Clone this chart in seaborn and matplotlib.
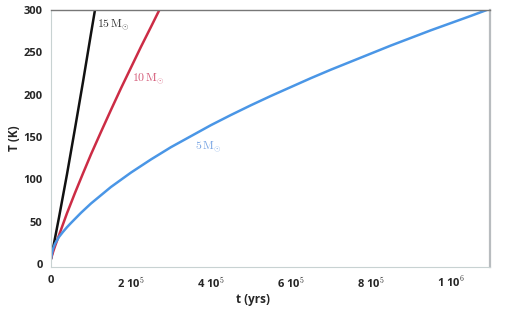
import matplotlib
matplotlib.use("Agg")
import matplotlib.pyplot as plt
from matplotlib.ticker import FuncFormatter
import seaborn as sns

# values (t in years, T in K)
t_15 = [0, 20000, 40000, 60000, 80000, 100000, 110000]
T_15 = [6, 55, 106, 160, 215, 272, 300]

t_10 = [0, 5000, 10000, 20000, 40000, 60000, 80000, 100000, 125000,
        150000, 175000, 200000, 225000, 250000, 271000]
T_10 = [6, 14, 21, 34, 60, 84, 107, 129.5, 156,
        182, 207.5, 232, 256.5, 280, 300]

t_5 = [0, 2500, 5000, 10000, 20000, 30000, 40000, 50000, 75000, 100000,
       150000, 200000, 250000, 300000, 350000, 400000, 450000, 500000,
       550000, 600000, 650000, 700000, 750000, 800000, 850000, 900000,
       950000, 1000000, 1050000, 1090000]
T_5 = [6, 13, 18, 24, 32, 38, 43.5, 48.5, 60.5, 71.5,
       91, 108, 123.5, 138, 151, 164, 176, 187.5,
       198.5, 209, 219.5, 229.5, 239, 248.5, 258, 267,
       276, 284.5, 293, 300]

x_ticks = [0, 200000, 400000, 600000, 800000, 1000000]
y_ticks = [0, 50, 100, 150, 200, 250, 300]

sns.set_style("white")
plt.rcParams["mathtext.fontset"] = "cm"
plt.rcParams["font.family"] = ["Open Sans", "DejaVu Sans"]

fig = plt.figure(figsize=(5.12, 3.12), dpi=100)
ax = fig.add_axes([0.0996, 0.1442, 0.8574, 0.8238])

sns.lineplot(x=t_15, y=T_15, ax=ax, color="#111111", lw=1.8, sort=False)
sns.lineplot(x=t_10, y=T_10, ax=ax, color="#cc2c45", lw=1.8, sort=False)
sns.lineplot(x=t_5, y=T_5, ax=ax, color="#4a96e6", lw=1.8, sort=False)

ax.set_xlim(0, 1.098e6)
ax.set_ylim(-3.5, 300)
ax.set_xticks(x_ticks)
ax.set_yticks(y_ticks)


def fmt_x(v, pos):
    if v == 0:
        return "0"
    e = 5 if v < 1e6 else 6
    return "%d 10$^{%d}$" % (round(v / 10 ** e), e)


ax.xaxis.set_major_formatter(FuncFormatter(fmt_x))
ax.tick_params(axis="x", direction="in", length=3, color="#c8d0d0",
               labelsize=8, pad=6)
ax.tick_params(axis="y", direction="out", length=4, width=1, color="#222222",
               labelsize=8, pad=2)
for lab in ax.get_xticklabels() + ax.get_yticklabels():
    lab.set_fontweight("bold")

ax.spines["top"].set_color("#777777")
ax.spines["top"].set_linewidth(1)
ax.spines["right"].set_color("#b8bcbf")
ax.spines["right"].set_linewidth(1.6)
ax.spines["left"].set_color("#c8d2d2")
ax.spines["left"].set_linewidth(0.8)
ax.spines["bottom"].set_color("#c8d2d2")
ax.spines["bottom"].set_linewidth(0.8)

ax.set_xlabel("t (yrs)", fontsize=8.5, fontweight="bold")
ax.set_ylabel("T (K)", fontsize=8.5, fontweight="bold")
ax.xaxis.set_label_coords(0.461, -0.1)
ax.yaxis.set_label_coords(-0.068, 0.5)

ax.text(116000, 283, r"$15\,\mathrm{M}_{\odot}$", color="#333333", fontsize=8.5,
        va="center")
ax.text(203000, 219, r"$10\,\mathrm{M}_{\odot}$", color="#d45a78", fontsize=8.5,
        va="center")
ax.text(361000, 139, r"$5\,\mathrm{M}_{\odot}$", color="#7aa6e4", fontsize=8.5,
        va="center")

fig.savefig("out.png", dpi=100)
